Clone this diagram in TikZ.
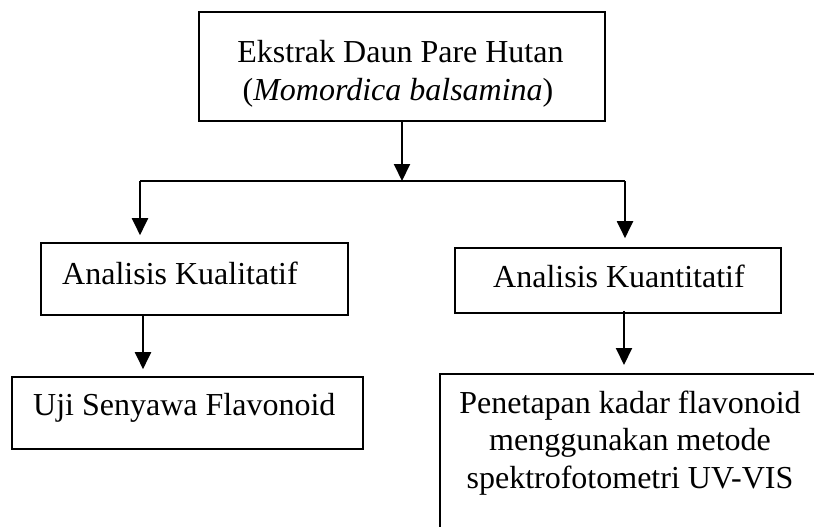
\documentclass[tikz,border=0pt]{standalone}
\usepackage{fontspec}
\setmainfont{Liberation Serif}
\usetikzlibrary{arrows.meta}
\begin{document}
\begin{tikzpicture}[x=1pt,y=-1pt,
  box/.style={draw, line width=1.6pt, inner sep=0pt},
  txt/.style={font=\fontsize{32}{37.5}\selectfont, inner sep=0pt},
  conn/.style={line width=2pt},
  arr/.style={conn, -{Triangle[width=16pt,length=17pt]}}]
\useasboundingbox (0,0) rectangle (814,527);
\clip (0,0) rectangle (814,527);
% boxes
\node[box, minimum width=406pt, minimum height=109pt] (top) at (402,66.5) {};
\node[box, minimum width=307pt, minimum height=72pt] (kual) at (194.5,279) {};
\node[box, minimum width=326pt, minimum height=65pt] (kuan) at (618,280.5) {};
\node[box, minimum width=351pt, minimum height=72pt] (uji) at (187.5,413) {};
\node[box, anchor=north west, minimum width=420pt, minimum height=220pt] (pen) at (439,373) {};
% texts
\node[txt, anchor=base] (t1) at (400.5,63) {Ekstrak Daun Pare Hutan};
\node[txt, anchor=base] (t2) at (398,100) {(\textit{Momordica balsamina})};
\node[txt, anchor=base west] (tkual) at (62,284) {Analisis Kualitatif};
\node[txt, anchor=base west] (tkuan) at (493,287) {Analisis Kuantitatif};
\node[txt, anchor=base west] (tuji) at (33,415) {Uji Senyawa Flavonoid};
\node[txt, anchor=base] (tp1) at (630,413) {Penetapan kadar flavonoid};
\node[txt, anchor=base] (tp2) at (630,450) {menggunakan metode};
\node[txt, anchor=base] (tp3) at (630,488) {spektrofotometri UV-VIS};
% connector points
\coordinate (jl) at (140,181);
\coordinate (jr) at (625,181);
\coordinate (xl) at (143,0);
\coordinate (xr) at (624,0);
\draw[arr] (top.south) -- (top.south |- jl);
\draw[conn] (jl) -- (jr);
\draw[arr, shorten >=7pt] (jl) -- (jl |- kual.north);
\draw[arr, shorten >=9pt] (jr) -- (jr |- kuan.north);
\draw[arr, shorten >=7pt] (kual.south -| xl) -- (uji.north -| xl);
\draw[arr, shorten >=8pt] ([yshift=3pt]kuan.south -| xr) -- (pen.north -| xr);
\end{tikzpicture}
\end{document}
